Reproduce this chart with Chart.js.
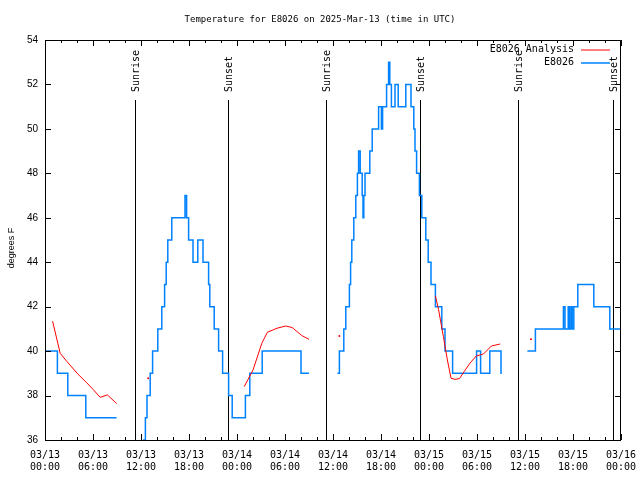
<!DOCTYPE html>
<html>
<head>
<meta charset="utf-8">
<title>E8026 temperature</title>
<script src="https://cdn.jsdelivr.net/npm/chart.js@4.4.1/dist/chart.umd.min.js"></script>
<style>
  html, body { margin: 0; padding: 0; background: #fff; }
  #wrap { width: 640px; height: 480px; }
</style>
</head>
<body>
<div id="wrap"><canvas id="tempChart" width="640" height="480"></canvas></div>
<script>
// Temperature for station E8026, x = hours since 2025-03-13 00:00 UTC

const chartTitle = 'Temperature for E8026 on 2025-Mar-13 (time in UTC)';
const yAxisLabel = 'degrees F';

// x tick labels, one every 6 hours
const tickDays  = ['03/13', '03/13', '03/13', '03/13', '03/14', '03/14', '03/14', '03/14', '03/15', '03/15', '03/15', '03/15', '03/16'];
const tickTimes = ['00:00', '06:00', '12:00', '18:00', '00:00', '06:00', '12:00', '18:00', '00:00', '06:00', '12:00', '18:00', '00:00'];

// sunrise / sunset markers
const sunHours  = [11.3, 22.9, 35.15, 46.9, 59.15, 70.95];
const sunLabels = ['Sunrise', 'Sunset', 'Sunrise', 'Sunset', 'Sunrise', 'Sunset'];

// observations (value holds from its hour until the next one), null = no data
const obsHours = [
  0, 1.55, 2.85, 5.1, 8.95, 10,
  12.2, 12.35, 12.55, 12.75, 13.15, 13.45, 14.1, 14.6, 14.95, 15.15, 15.35, 15.85,
  17.5, 17.7, 17.95, 18.5, 19.1, 19.75, 20.45, 20.6, 21.15, 21.7, 22.2, 22.95, 23.4,
  25.05, 25.6, 27.15, 32.0, 33.0, 34,
  36.55, 36.8, 37.35, 37.6, 38.05, 38.2, 38.35, 38.6, 38.85, 39.05, 39.2, 39.4, 39.65,
  39.75, 39.85, 40.0, 40.6, 40.9, 41.7, 42.05, 42.2, 42.7, 42.95, 43.1, 43.3, 43.75,
  44.15, 45.1, 45.75, 46.1, 46.25, 46.45, 46.8, 47.1, 47.6, 47.9, 48.25, 48.8, 49.6,
  50.0, 50.95, 53.95, 54.45, 55.6, 57.0, 57.1, 58,
  60.3, 61.3, 64.8, 65.0, 65.4, 65.55, 65.75, 65.9, 66.1, 66.6, 68.6, 70.6, 72
];
const obsTemps = [
  40, 39, 38, 37, 37, null,
  35, 36, 37, 38, 39, 40, 41, 42, 43, 44, 45, 46,
  47, 46, 45, 44, 45, 44, 43, 42, 41, 40, 39, 38, 37,
  38, 39, 40, 39, 39, null,
  39, 40, 41, 42, 43, 44, 45, 46, 47, 48, 49, 48, 47,
  46, 47, 48, 49, 50, 51, 50, 51, 52, 53, 52, 51, 52,
  51, 52, 51, 50, 49, 48, 47, 46, 45, 44, 43, 42, 41,
  40, 39, 40, 39, 40, 39, 39, null,
  40, 41, 42, 41, 42, 41, 42, 41, 42, 43, 42, 41, 41
];

// analysis
const anaHours = [
  0.95, 1.9, 2.7, 4.1, 5.2, 6.0, 6.9, 7.8, 8.95, 10.5,
  12.9, 14,
  24.9, 26.0, 27.1, 27.8, 29.0, 30.1, 30.9, 32.1, 33.0, 34.5,
  36.8, 38,
  48.8, 49.2, 49.8, 50.3, 50.75, 51.25, 51.8, 52.4, 53.1, 53.9, 54.8, 55.8, 56.9, 58,
  60.75
];
const anaTemps = [
  41.35, 39.9, 39.55, 38.97, 38.58, 38.28, 37.92, 38.03, 37.64, null,
  38.78, null,
  38.4, 39.15, 40.35, 40.85, 41.03, 41.13, 41.06, 40.7, 40.53, null,
  40.68, null,
  42.49, 41.86, 40.65, 39.6, 38.78, 38.73, 38.76, 39.08, 39.45, 39.78, 39.87, 40.23, 40.32, null,
  40.53
];

const monoFont = '"DejaVu Sans Mono", monospace';
const sansFont = '"Liberation Sans", Arial, sans-serif';
const blue = 'rgb(0,130,255)';
const red = 'rgb(255,0,0)';

function toPoints(hours, temps) {
  return hours.map((h, i) => ({ x: h, y: temps[i] }));
}

// single analysis values with no neighbours get a dot
function loneDot(ctx) {
  const d = ctx.dataset.data;
  const i = ctx.dataIndex;
  if (d[i].y === null) return 0;
  const prev = i > 0 ? d[i - 1].y : null;
  const next = i < d.length - 1 ? d[i + 1].y : null;
  return (prev === null && next === null) ? 1 : 0;
}

const gnuplotLook = {
  id: 'gnuplotLook',
  beforeDatasetsDraw(chart) {
    const { ctx, chartArea } = chart;
    const xs = chart.scales.x;
    ctx.save();
    ctx.strokeStyle = '#000';
    ctx.fillStyle = '#000';
    ctx.lineWidth = 1;
    ctx.font = '10px ' + monoFont;
    sunHours.forEach((h, i) => {
      const px = Math.round(xs.getPixelForValue(h)) + 0.5;
      ctx.beginPath();
      ctx.moveTo(px, 100);
      ctx.lineTo(px, chartArea.bottom);
      ctx.stroke();
      ctx.save();
      ctx.translate(px + 1, 92);
      ctx.rotate(-Math.PI / 2);
      ctx.textAlign = 'left';
      ctx.textBaseline = 'middle';
      ctx.fillText(sunLabels[i], 0, 0);
      ctx.restore();
    });
    ctx.restore();
  },
  afterDraw(chart) {
    const { ctx, chartArea } = chart;
    const { left, right, top, bottom } = chartArea;
    const xs = chart.scales.x;
    const ys = chart.scales.y;
    ctx.save();
    ctx.strokeStyle = '#000';
    ctx.fillStyle = '#000';
    ctx.lineWidth = 1;

    // title, centred on the page
    ctx.font = '9px ' + monoFont;
    ctx.textAlign = 'center';
    ctx.textBaseline = 'middle';
    ctx.fillText(chartTitle, 320, 20);

    // frame
    ctx.strokeRect(left + 0.5, top + 0.5, right - left - 1, bottom - top);

    // inward ticks on all four sides
    ctx.beginPath();
    for (let h = 0; h <= 72; h += 2) {
      const px = Math.round(xs.getPixelForValue(h)) + 0.5;
      const len = h % 6 === 0 ? 6 : 3;
      ctx.moveTo(px, bottom);
      ctx.lineTo(px, bottom - len);
      ctx.moveTo(px, top);
      ctx.lineTo(px, top + len);
    }
    for (let v = 36; v <= 54; v += 2) {
      const py = Math.round(ys.getPixelForValue(v)) + 0.5;
      ctx.moveTo(left, py);
      ctx.lineTo(left + 6, py);
      ctx.moveTo(right, py);
      ctx.lineTo(right - 6, py);
    }
    ctx.stroke();

    // legend, top right
    ctx.font = '10px ' + monoFont;
    ctx.textAlign = 'right';
    ctx.textBaseline = 'middle';
    chart.data.datasets.forEach((ds, i) => {
      const ly = 49.5 + i * 13;
      ctx.fillText(ds.label, 574, ly);
      ctx.strokeStyle = ds.borderColor;
      ctx.lineWidth = ds.borderWidth;
      ctx.beginPath();
      ctx.moveTo(581, ly + 0.5);
      ctx.lineTo(610, ly + 0.5);
      ctx.stroke();
    });

    // y axis label
    ctx.font = '9px ' + sansFont;
    ctx.textAlign = 'center';
    ctx.translate(12, 248);
    ctx.rotate(-Math.PI / 2);
    ctx.fillText(yAxisLabel, 0, 0);
    ctx.restore();
  }
};

new Chart(document.getElementById('tempChart'), {
  type: 'line',
  data: {
    datasets: [
      {
        label: 'E8026 Analysis',
        data: toPoints(anaHours, anaTemps),
        borderColor: red,
        backgroundColor: red,
        borderWidth: 1,
        pointRadius: loneDot,
        pointBorderWidth: 0,
        spanGaps: false,
        tension: 0
      },
      {
        label: 'E8026',
        data: toPoints(obsHours, obsTemps),
        borderColor: blue,
        backgroundColor: blue,
        borderWidth: 1.5,
        pointRadius: 0,
        stepped: 'before',
        spanGaps: false
      }
    ]
  },
  options: {
    responsive: false,
    animation: false,
    events: [],
    layout: { autoPadding: false, padding: { left: 0, right: 19, top: 40, bottom: 0 } },
    plugins: {
      legend: { display: false },
      tooltip: { enabled: false },
      title: { display: false }
    },
    scales: {
      x: {
        type: 'linear',
        min: 0,
        max: 72,
        grid: { display: false, drawTicks: false },
        border: { display: false },
        ticks: {
          stepSize: 6,
          autoSkip: false,
          maxRotation: 0,
          padding: 9,
          color: '#000',
          font: { family: monoFont, size: 10, lineHeight: 1.2 },
          callback: (v) => [tickDays[v / 6], tickTimes[v / 6]]
        },
        afterFit: (s) => { s.height = 40; s.paddingLeft = 0; s.paddingRight = 0; }
      },
      y: {
        min: 36,
        max: 54,
        grid: { display: false, drawTicks: false },
        border: { display: false },
        ticks: {
          stepSize: 2,
          padding: 7,
          color: '#000',
          font: { family: sansFont, size: 10 }
        },
        afterFit: (s) => { s.width = 45; }
      }
    }
  },
  plugins: [gnuplotLook]
});
</script>
</body>
</html>
